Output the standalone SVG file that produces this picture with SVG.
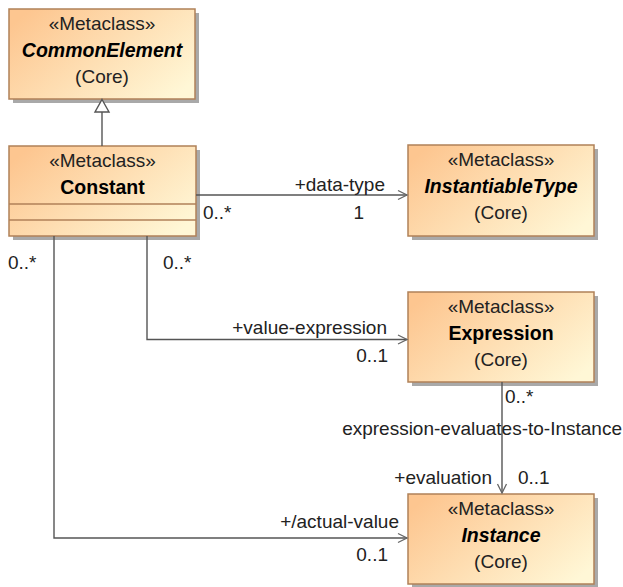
<svg xmlns="http://www.w3.org/2000/svg" width="623" height="587" viewBox="0 0 623 587">
<defs>
<linearGradient id="g" x1="0" y1="0.2" x2="1" y2="0.8">
<stop offset="0" stop-color="#FDC690"/>
<stop offset="1" stop-color="#FFF7D6"/>
</linearGradient>
<marker id="open" markerWidth="12" markerHeight="12" refX="10" refY="6" orient="auto" markerUnits="userSpaceOnUse">
<path d="M1,1.5 L10,6 L1,10.5" fill="none" stroke="#666" stroke-width="1.3"/>
</marker>
</defs>
<style>
.box{fill:url(#g);stroke:#B08158;stroke-width:1.5}
.shadow{fill:#a9a9a9}
.t{font-family:"Liberation Sans",Arial,sans-serif;font-size:19.5px;fill:#000;text-anchor:middle}
.st{font-family:"Liberation Sans",Arial,sans-serif;font-size:19px;fill:#222;text-anchor:middle}
.b{font-weight:bold}
.bi{font-weight:bold;font-style:italic}
.lbl{font-family:"Liberation Sans",Arial,sans-serif;font-size:19px;fill:#222}
.e{text-anchor:end}
.ln{fill:none;stroke:#555;stroke-width:1.4}
.cmp{stroke:#B08158;stroke-width:1.5}
</style>

<g id="CommonElement">
<rect class="shadow" x="13" y="13" width="186" height="90"/>
<rect class="box" x="9" y="9" width="186" height="90"/>
<text class="st" x="102" y="29.5">«Metaclass»</text>
<text class="t bi" x="102" y="57">CommonElement</text>
<text class="st" x="102" y="83">(Core)</text>
</g>

<g id="Constant">
<rect class="shadow" x="13" y="150" width="187" height="90"/>
<rect class="box" x="9" y="146" width="187" height="90"/>
<line class="cmp" x1="9" y1="204" x2="196" y2="204"/>
<line class="cmp" x1="9" y1="220" x2="196" y2="220"/>
<text class="st" x="102.5" y="166.5">«Metaclass»</text>
<text class="t b" x="102.5" y="194">Constant</text>
</g>

<g id="InstantiableType">
<rect class="shadow" x="412" y="149" width="186" height="91"/>
<rect class="box" x="408" y="145" width="186" height="91"/>
<text class="st" x="501" y="165.5">«Metaclass»</text>
<text class="t bi" x="501" y="193">InstantiableType</text>
<text class="st" x="501" y="219">(Core)</text>
</g>

<g id="Expression">
<rect class="shadow" x="412" y="296" width="186" height="90"/>
<rect class="box" x="408" y="292" width="186" height="90"/>
<text class="st" x="501" y="312.5">«Metaclass»</text>
<text class="t b" x="501" y="340">Expression</text>
<text class="st" x="501" y="366">(Core)</text>
</g>

<g id="Instance">
<rect class="shadow" x="412" y="498" width="186" height="90"/>
<rect class="box" x="408" y="494" width="186" height="90"/>
<text class="st" x="501" y="514.5">«Metaclass»</text>
<text class="t bi" x="501" y="542">Instance</text>
<text class="st" x="501" y="568">(Core)</text>
</g>

<g id="connectors">
<line class="ln" x1="102" y1="112" x2="102" y2="146"/>
<path d="M102,99.5 L109,112 L95,112 Z" fill="#fff" stroke="#555" stroke-width="1.4"/>
<path class="ln" d="M196,195 L407,195" marker-end="url(#open)"/>
<path class="ln" d="M147,236 L147,339.5 L407,339.5" marker-end="url(#open)"/>
<path class="ln" d="M54,236 L54,538 L407,538" marker-end="url(#open)"/>
<path class="ln" d="M502,382 L502,493" marker-end="url(#open)"/>
</g>

<g id="labels">
<text class="lbl e" x="385" y="191">+data-type</text>
<text class="lbl" x="203" y="219">0..*</text>
<text class="lbl e" x="364" y="219">1</text>
<text class="lbl" x="8" y="269">0..*</text>
<text class="lbl" x="163" y="269">0..*</text>
<text class="lbl e" x="387" y="334">+value-expression</text>
<text class="lbl e" x="388" y="362">0..1</text>
<text class="lbl" x="505" y="403">0..*</text>
<text class="lbl e" x="622" y="435">expression-evaluates-to-Instance</text>
<text class="lbl e" x="492" y="484">+evaluation</text>
<text class="lbl" x="518" y="484">0..1</text>
<text class="lbl e" x="399" y="528">+/actual-value</text>
<text class="lbl e" x="388" y="561">0..1</text>
</g>
</svg>
